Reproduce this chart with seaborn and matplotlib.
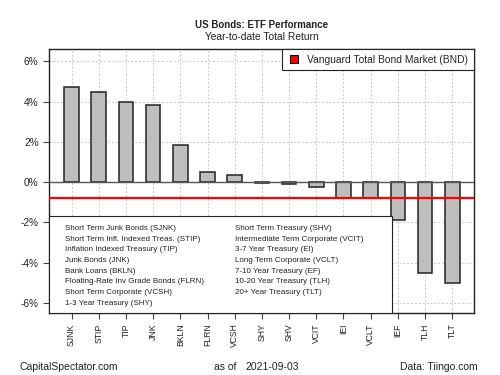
import matplotlib
matplotlib.use("Agg")
import matplotlib.pyplot as plt
import seaborn as sns
from matplotlib.lines import Line2D
from matplotlib.patches import Rectangle

tickers = ['SJNK', 'STIP', 'TIP', 'JNK', 'BKLN', 'FLRN', 'VCSH', 'SHY',
           'SHV', 'VCIT', 'IEI', 'VCLT', 'IEF', 'TLH', 'TLT']
returns = [4.71, 4.46, 4.00, 3.83, 1.82, 0.51, 0.35, -0.03,
           -0.07, -0.25, -0.80, -0.81, -1.89, -4.49, -4.99]
names_left = ['Short Term Junk Bonds (SJNK)',
              'Short Term Infl. Indexed Treas. (STIP)',
              'Inflation Indexed Treasury (TIP)',
              'Junk Bonds (JNK)',
              'Bank Loans (BKLN)',
              'Floating-Rate Inv Grade Bonds (FLRN)',
              'Short Term Corporate (VCSH)',
              '1-3 Year Treasury (SHY)']
names_right = ['Short Term Treasury (SHV)',
               'Intermediate Term Corporate (VCIT)',
               '3-7 Year Treasury (EI)',
               'Long Term Corporate (VCLT)',
               '7-10 Year Treasury (EF)',
               '10-20 Year Treasury (TLH)',
               '20+ Year Treasury (TLT)']
bnd = -0.79
yticks = [-6, -4, -2, 0, 2, 4, 6]

sns.set_style('white')
plt.rcParams['font.family'] = ['Liberation Sans', 'DejaVu Sans']

fig = plt.figure(figsize=(5, 3.75), dpi=100)
ax = fig.add_axes([0.098, 0.165, 0.85, 0.704])

# grid behind the bars
for i in range(len(tickers)):
    ax.axvline(i, color='#c8c8c8', lw=0.7, ls=(0, (2, 2)), zorder=0)
for t in yticks:
    if t != 0:
        ax.axhline(t, color='#c8c8c8', lw=0.7, ls=(0, (2, 2)), zorder=0)

sns.barplot(x=tickers, y=returns, color='#bebebe', edgecolor='#222222',
            linewidth=1.1, width=0.54, saturation=1, ax=ax, zorder=2)
ax.axhline(0, color='#555555', lw=1, zorder=3)
ax.axhline(bnd, color='red', lw=1.6, zorder=4)

ax.set_xlim(-0.83, 14.8)
ax.set_ylim(-6.5, 6.6)
ax.set_yticks(yticks)
ax.set_yticklabels([f'{t}%' for t in yticks], fontsize=7.3, color='#222222')
ax.set_xticks(range(len(tickers)))
ax.set_xticklabels(tickers, rotation=90, fontsize=6.2, color='#222222')
ax.tick_params(axis='both', direction='out', length=4, width=0.8,
               colors='#444444', labelcolor='#222222', bottom=True, left=True)
ax.set_xlabel('')
ax.set_ylabel('')
for s in ax.spines.values():
    s.set_color('#222222')
    s.set_linewidth(1)

leg1 = ax.legend(handles=[Line2D([], [], marker='s', ls='', markersize=6,
                                 markerfacecolor='red', markeredgecolor='black',
                                 markeredgewidth=0.7)],
                 labels=['Vanguard Total Bond Market (BND)'],
                 loc='upper right', borderaxespad=0, fontsize=7.4,
                 fancybox=False, edgecolor='#222222', framealpha=1,
                 handletextpad=0.7, borderpad=0.55, handlelength=1.2)
leg1.get_frame().set_linewidth(0.8)
leg1.set_zorder(5)

# ticker name key in the lower left
ax.add_patch(Rectangle((0, 0), 0.807, 0.369, transform=ax.transAxes,
                       facecolor='white', edgecolor='#222222', lw=0.8,
                       zorder=5))
row0, step = 228.3, 10.71
for k, txt in enumerate(names_left):
    ax.text(0.0376, (313 - (row0 + k * step)) / 264, txt,
            transform=ax.transAxes, fontsize=5.75, va='center',
            color='#222222', zorder=6)
for k, txt in enumerate(names_right):
    ax.text(0.438, (313 - (row0 + k * step)) / 264, txt,
            transform=ax.transAxes, fontsize=5.75, va='center',
            color='#222222', zorder=6)

fig.text(0.523, 0.933, 'US Bonds: ETF Performance', ha='center', va='center',
         fontsize=7, fontweight='bold', color='#222222')
fig.text(0.523, 0.901, 'Year-to-date Total Return', ha='center', va='center',
         fontsize=7.4, color='#222222')
fig.text(0.04, 0.022, 'CapitalSpectator.com', ha='left', va='center',
         fontsize=7.5, color='#222222')
fig.text(0.428, 0.022, 'as of', ha='left', va='center',
         fontsize=7.5, color='#222222')
fig.text(0.49, 0.022, '2021-09-03', ha='left', va='center',
         fontsize=7.5, color='#222222')
fig.text(0.956, 0.022, 'Data: Tiingo.com', ha='right', va='center',
         fontsize=7.5, color='#222222')

fig.savefig('out.png', dpi=100)
